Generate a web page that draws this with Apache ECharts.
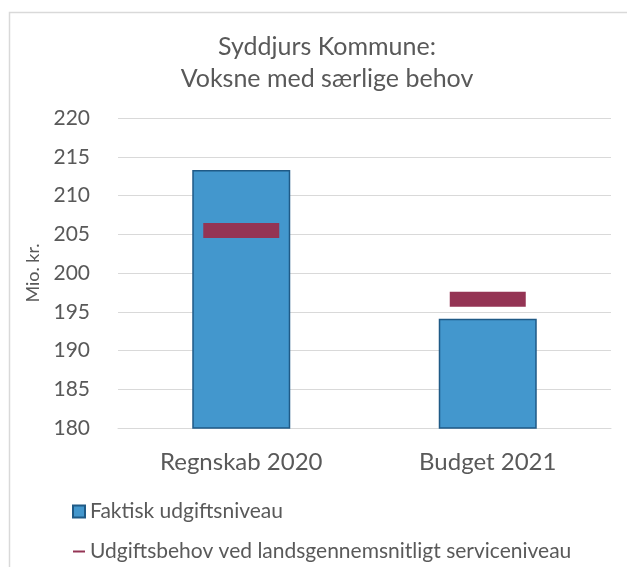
<!DOCTYPE html>
<html>
<head>
<meta charset="utf-8">
<script src="https://cdn.jsdelivr.net/npm/echarts@6/dist/echarts.min.js"></script>
<style>
  html, body { margin: 0; padding: 0; background: #fff; }
  #chart { width: 627px; height: 567px; }
</style>
</head>
<body>
<div id="chart"></div>
<script>
// data
var categories = ["Regnskab 2020", "Budget 2021"];
var faktisk = [213.3, 194.1];
var udgiftsbehov = [205.5, 196.6];
var yTicks = { min: 180, max: 220, step: 5 };

var font = "Lato";
var textColor = "#595959";

var chart = echarts.init(document.getElementById("chart"));
var option = {
    animation: false,
    backgroundColor: "#fff",
    title: {
        text: "Syddjurs Kommune:\nVoksne med særlige behov",
        left: 322,
        top: 26,
        textAlign: "center",
        textStyle: {
            fontFamily: font,
            fontSize: 25,
            fontWeight: "normal",
            color: textColor,
            lineHeight: 32
        }
    },
    graphic: [{
        type: "rect",
        shape: { x: 9.5, y: 12.5, width: 700, height: 700 },
        style: { fill: "none", stroke: "#d9d9d9", lineWidth: 1.5 },
        silent: true,
        z: -1
    }],
    legend: {
        orient: "vertical",
        left: 67,
        top: 496,
        itemGap: 19,
        itemWidth: 12,
        itemHeight: 12,
        textStyle: { fontFamily: font, fontSize: 21, color: textColor },
        data: [
            { name: "Faktisk udgiftsniveau", icon: "rect" },
            {
                name: "Udgiftsbehov ved landsgennemsnitligt serviceniveau",
                icon: "path://M0,5 L12,5 L12,7 L0,7 Z"
            }
        ]
    },
    grid: {
        left: 118,
        right: 16,
        top: 118,
        height: 310
    },
    xAxis: {
        type: "category",
        data: categories,
        axisLine: { show: true, lineStyle: { color: "#d9d9d9", width: 1 } },
        axisTick: { show: false },
        axisLabel: {
            fontFamily: font,
            fontSize: 24,
            color: textColor,
            margin: 22
        }
    },
    yAxis: {
        type: "value",
        min: yTicks.min,
        max: yTicks.max,
        interval: yTicks.step,
        name: "Mio. kr.",
        nameLocation: "middle",
        nameRotate: 90,
        nameGap: 74,
        nameTextStyle: { fontFamily: font, fontSize: 18, color: textColor },
        axisLine: { show: false },
        axisTick: { show: false },
        axisLabel: {
            fontFamily: font,
            fontSize: 21,
            color: textColor,
            margin: 28
        },
        splitLine: { lineStyle: { color: "#d9d9d9", width: 1 } }
    },
    series: [
        {
            name: "Faktisk udgiftsniveau",
            type: "bar",
            data: faktisk,
            barWidth: 98,
            itemStyle: {
                color: "#4397cd",
                borderColor: "#1f5a86",
                borderWidth: 1.5
            }
        },
        {
            name: "Udgiftsbehov ved landsgennemsnitligt serviceniveau",
            type: "scatter",
            data: udgiftsbehov,
            symbol: "rect",
            symbolSize: [76, 15],
            itemStyle: { color: "#943454", opacity: 1 },
            z: 5
        }
    ]
};
chart.setOption(option);
</script>
</body>
</html>
